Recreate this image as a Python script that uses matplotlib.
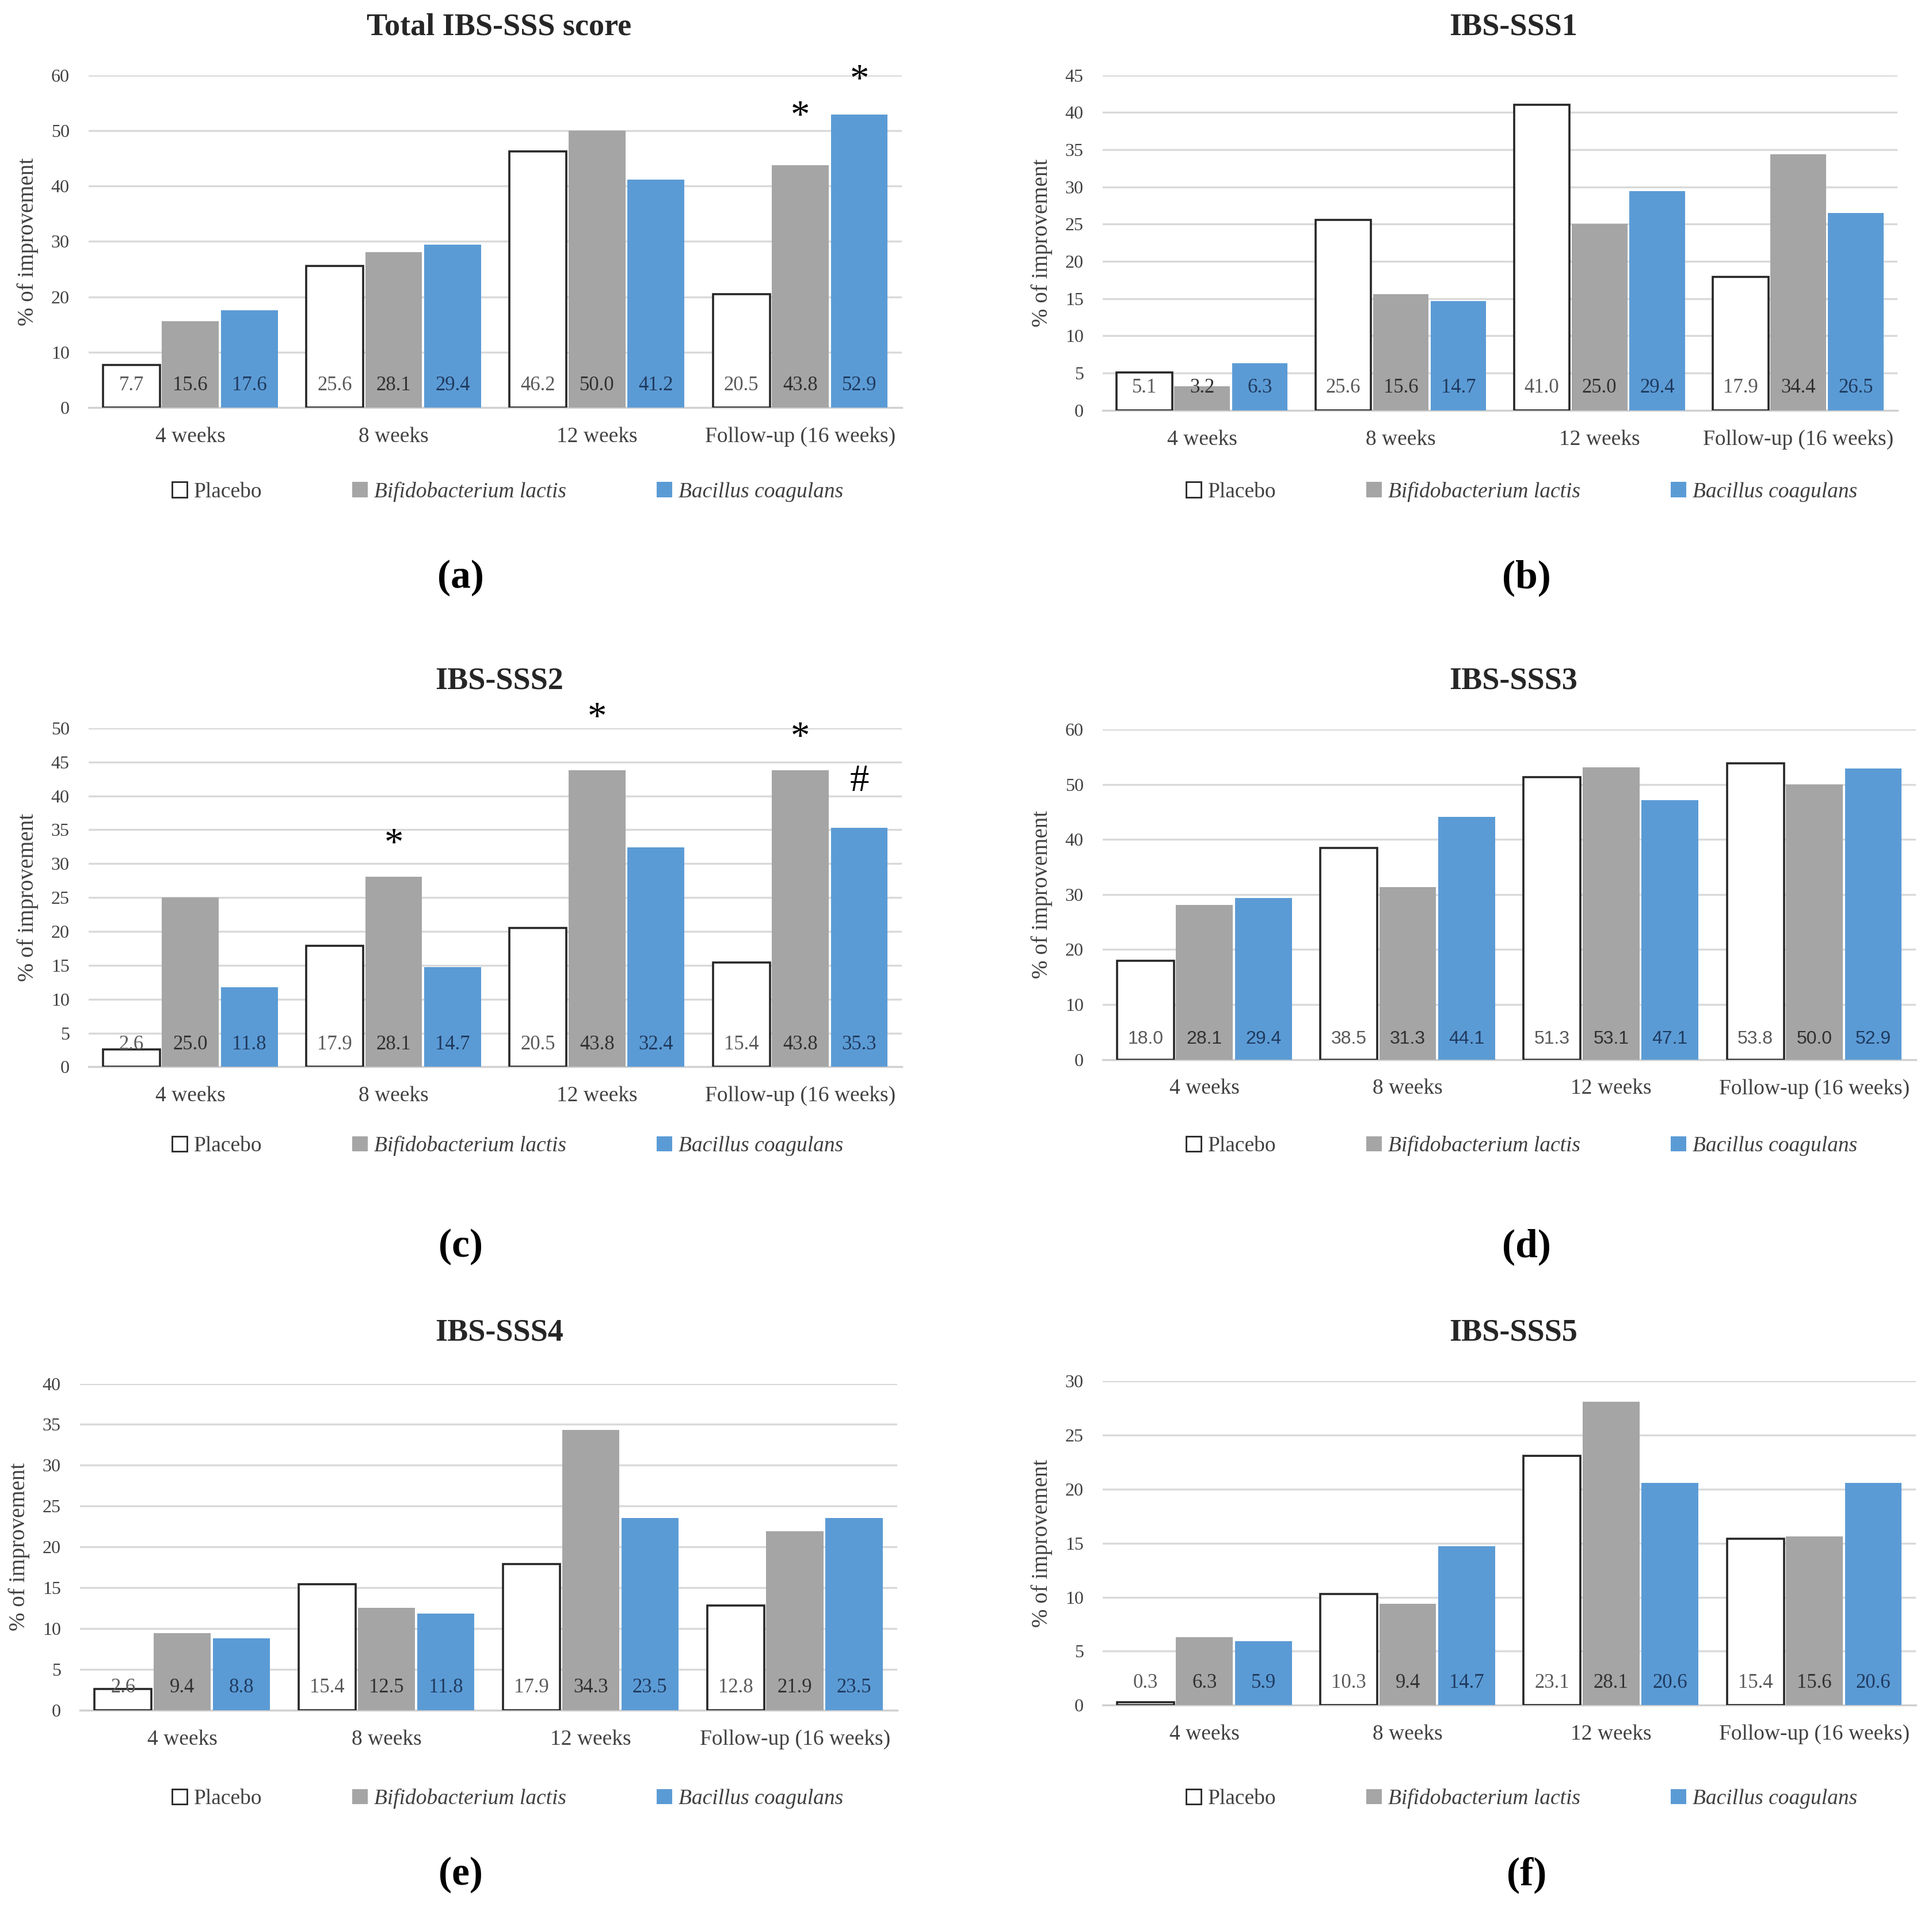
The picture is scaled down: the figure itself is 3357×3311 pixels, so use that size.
import numpy as np
import matplotlib
matplotlib.use('Agg')
import matplotlib.pyplot as plt
from matplotlib.patches import Patch

plt.rcParams['font.family'] = ['Liberation Serif', 'DejaVu Serif']

# --- data ---
categories = ['4 weeks', '8 weeks', '12 weeks', 'Follow-up (16 weeks)']
series = ['Placebo', 'Bifidobacterium lactis', 'Bacillus coagulans']

total_placebo = [7.7, 25.6, 46.2, 20.5]
total_bif = [15.6, 28.1, 50.0, 43.8]
total_bac = [17.6, 29.4, 41.2, 52.9]

sss1_placebo = [5.1, 25.6, 41.0, 17.9]
sss1_bif = [3.2, 15.6, 25.0, 34.4]
sss1_bac = [6.3, 14.7, 29.4, 26.5]

sss2_placebo = [2.6, 17.9, 20.5, 15.4]
sss2_bif = [25.0, 28.1, 43.8, 43.8]
sss2_bac = [11.8, 14.7, 32.4, 35.3]

sss3_placebo = [18.0, 38.5, 51.3, 53.8]
sss3_bif = [28.1, 31.3, 53.1, 50.0]
sss3_bac = [29.4, 44.1, 47.1, 52.9]

sss4_placebo = [2.6, 15.4, 17.9, 12.8]
sss4_bif = [9.4, 12.5, 34.3, 21.9]
sss4_bac = [8.8, 11.8, 23.5, 23.5]

sss5_placebo = [0.3, 10.3, 23.1, 15.4]
sss5_bif = [6.3, 9.4, 28.1, 15.6]
sss5_bac = [5.9, 14.7, 20.6, 20.6]

titles = ['Total IBS-SSS score', 'IBS-SSS1', 'IBS-SSS2', 'IBS-SSS3', 'IBS-SSS4', 'IBS-SSS5']
panel_tags = ['(a)', '(b)', '(c)', '(d)', '(e)', '(f)']
y_max = [60, 45, 50, 60, 40, 30]
y_step = [10, 5, 5, 10, 5, 5]

# significance marks: (panel, category, series, symbol, offset in points)
marks = [(0, 3, 1, '*', 30), (0, 3, 2, '*', 21),
         (2, 1, 1, '*', 20), (2, 2, 1, '*', 32), (2, 3, 1, '*', 20), (2, 3, 2, '#', 29)]

panels = [(total_placebo, total_bif, total_bac),
          (sss1_placebo, sss1_bif, sss1_bac),
          (sss2_placebo, sss2_bif, sss2_bac),
          (sss3_placebo, sss3_bif, sss3_bac),
          (sss4_placebo, sss4_bif, sss4_bac),
          (sss5_placebo, sss5_bif, sss5_bac)]

# --- layout (measured on a 1568 x 1547 grid) ---
W, H = 1568.0, 1547.0
axes_px = [(72, 732, 61, 331), (895, 1540, 61, 333),
           (72, 732, 591, 866), (895, 1555, 592, 860),
           (65, 728, 1123, 1388), (895, 1555, 1121, 1384)]
title_y = [22, 553, 1082]
legend_y = [399, 930, 1460]
tag_y = [469, 1012, 1522]
col_title_x = [405, 1228]
col_legend_x = [412, 1235]
col_tag_x = [374, 1239]

face_colors = ['white', '#A5A5A5', '#5B9BD5']
edge_colors = ['#262626', '#A5A5A5', '#5B9BD5']
label_colors = ['#595959', '#303030', '#1F3A5F']

fig = plt.figure(figsize=(3357 / 200, 3311 / 200), dpi=200)

x = np.arange(len(categories))
bw = 0.28
offs = [-0.29, 0.0, 0.29]

for i, data in enumerate(panels):
    x0, x1, yt, yb = axes_px[i]
    ax = fig.add_axes([x0 / W, 1 - yb / H, (x1 - x0) / W, (yb - yt) / H])
    row, col = i // 2, i % 2
    for s in range(3):
        ax.bar(x + offs[s], data[s], bw, color=face_colors[s],
               edgecolor=edge_colors[s], linewidth=1.3 if s == 0 else 0, zorder=3)
        for xi, v in zip(x, data[s]):
            if i == 3:
                ax.annotate(f'{v:.1f}', (xi + offs[s], 0), xytext=(0, 13),
                            textcoords='offset points', ha='center', va='center',
                            fontsize=11.5, color=label_colors[s], zorder=5,
                            family=['Liberation Sans', 'DejaVu Sans'])
            else:
                ax.annotate(f'{v:.1f}', (xi + offs[s], 0), xytext=(0, 14),
                            textcoords='offset points', ha='center', va='center',
                            fontsize=12.5, color=label_colors[s], zorder=5)
    ax.set_xlim(-0.5, 3.5)
    ax.set_ylim(0, y_max[i])
    ax.set_yticks(np.arange(0, y_max[i] + 0.1, y_step[i]))
    ax.set_xticks(x)
    ax.set_xticklabels(categories, fontsize=13.5, color='#404040')
    ax.tick_params(axis='both', length=0, labelcolor='#404040')
    ax.tick_params(axis='y', pad=12, labelsize=11.5)
    ax.tick_params(axis='x', pad=12, labelsize=13.5)
    ax.grid(axis='y', color='#D9D9D9', linewidth=1.2, zorder=0)
    for sp in ['top', 'right', 'left']:
        ax.spines[sp].set_visible(False)
    ax.spines['bottom'].set_color('#D0D0D0')
    ax.spines['bottom'].set_linewidth(1.2)
    ax.set_ylabel('% of improvement', fontsize=14, color='#404040', labelpad=8)

    for (p, c, s, sym, off) in marks:
        if p == i:
            ax.annotate(sym, (x[c] + offs[s], data[s][c]), xytext=(0, off),
                        textcoords='offset points', ha='center', va='center',
                        fontsize=24, color='black', annotation_clip=False)

    fig.text(col_title_x[col] / W, 1 - title_y[row] / H, titles[i],
             ha='center', va='center', fontsize=19.5, fontweight='bold', color='#262626')
    fig.text(col_tag_x[col] / W, 1 - tag_y[row] / H, panel_tags[i],
             ha='center', va='center', fontsize=25, fontweight='bold')

    handles = [Patch(facecolor=face_colors[s], edgecolor=edge_colors[s],
                     linewidth=1.0 if s == 0 else 0) for s in range(3)]
    leg = fig.legend(handles, series, loc='center',
                     bbox_to_anchor=(col_legend_x[col] / W, 1 - legend_y[row] / H),
                     ncol=3, frameon=False, fontsize=13.5, handlelength=0.7,
                     handleheight=0.7, handletextpad=0.3, columnspacing=4.2)
    for t_i, t in enumerate(leg.get_texts()):
        t.set_color('#404040')
        if t_i > 0:
            t.set_fontstyle('italic')

fig.savefig('out.png', dpi=200)
